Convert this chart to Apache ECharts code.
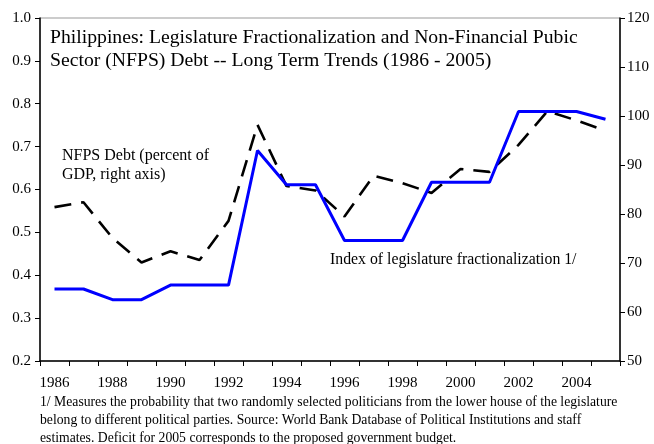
<!DOCTYPE html>
<html>
<head>
<meta charset="utf-8">
<script src="https://cdn.jsdelivr.net/npm/echarts@6/dist/echarts.min.js"></script>
<style>
html,body{margin:0;padding:0;background:#fff;}
#chart{width:654px;height:444px;}
</style>
</head>
<body>
<div id="chart"></div>
<script>
const years = ['1986','1987','1988','1989','1990','1991','1992','1993','1994','1995','1996','1997','1998','1999','2000','2001','2002','2003','2004','2005'];
const fractionalization = [0.368,0.368,0.343,0.343,0.377,0.377,0.377,0.691,0.611,0.611,0.481,0.481,0.481,0.617,0.617,0.617,0.782,0.782,0.782,0.764];
const nfpsDebt = [81.4,82.4,75.1,70.1,72.4,70.6,78.6,98.2,85.7,84.8,79.5,87.8,86.3,84.3,89.2,88.6,94.1,101.0,99.1,97.0];
const leftTicks = {min:0.2, max:1.0, interval:0.1};
const rightTicks = {min:50, max:120, interval:10};
const titleLines = ['Philippines: Legislature Fractionalization and Non-Financial Pubic','Sector (NFPS) Debt -- Long Term Trends (1986 - 2005)'];
const debtLabel = ['NFPS Debt (percent of','GDP, right axis)'];
const indexLabel = 'Index of legislature fractionalization 1/';
const footnote = ['1/ Measures the probability that two randomly selected politicians from the lower house of the legislature','belong to different political parties. Source: World Bank Database of Political Institutions and staff','estimates. Deficit for 2005 corresponds to the proposed government budget.'];

const FONT = '"Liberation Serif", "Times New Roman", serif';
const chart = echarts.init(document.getElementById('chart'), null, {renderer:'canvas'});
const txt = (x, y, t, size) => ({type:'text', left:x, top:y, style:{text:t, font: size + 'px ' + FONT, fill:'#000'}});
chart.setOption({
  animation:false,
  backgroundColor:'#fff',
  grid:{left:40, right:34, top:18, bottom:83, show:true, borderColor:'#999', borderWidth:1},
  xAxis:{type:'category', data:years, boundaryGap:true,
    axisLine:{lineStyle:{color:'#000', width:1.5}},
    axisTick:{show:true, interval:0, length:5, lineStyle:{color:'#000'}},
    axisLabel:{interval:1, color:'#000', fontFamily:FONT, fontSize:15, margin:15}},
  yAxis:[
    {type:'value', position:'left', min:leftTicks.min, max:leftTicks.max, interval:leftTicks.interval,
     axisLine:{show:true, lineStyle:{color:'#000', width:1.5}}, axisTick:{show:true, length:5, lineStyle:{color:'#000'}},
     splitLine:{show:false},
     axisLabel:{color:'#000', fontFamily:FONT, fontSize:15, margin:9, formatter:v=>v.toFixed(1)}},
    {type:'value', position:'right', min:rightTicks.min, max:rightTicks.max, interval:rightTicks.interval,
     axisLine:{show:true, lineStyle:{color:'#000', width:1.5}}, axisTick:{show:true, length:5, lineStyle:{color:'#000'}},
     splitLine:{show:false},
     axisLabel:{color:'#000', fontFamily:FONT, fontSize:15, margin:7}}
  ],
  series:[
    {type:'line', name:'NFPS Debt', yAxisIndex:1, data:nfpsDebt, symbol:'none',
     lineStyle:{color:'#000', width:2.6, type:[17,10]}, z:2},
    {type:'line', name:'Index', yAxisIndex:0, data:fractionalization, symbol:'none',
     lineStyle:{color:'#0000FF', width:3}, z:3}
  ],
  graphic:[
    txt(50, 28, titleLines[0], 19.7),
    txt(50, 51, titleLines[1], 19.7),
    txt(62, 148, debtLabel[0], 16),
    txt(62, 167, debtLabel[1], 16),
    txt(330, 252, indexLabel, 15.8),
    txt(40, 395, footnote[0], 13.7),
    txt(40, 413, footnote[1], 13.7),
    txt(40, 431, footnote[2], 13.7)
  ]
});
</script>
</body>
</html>
